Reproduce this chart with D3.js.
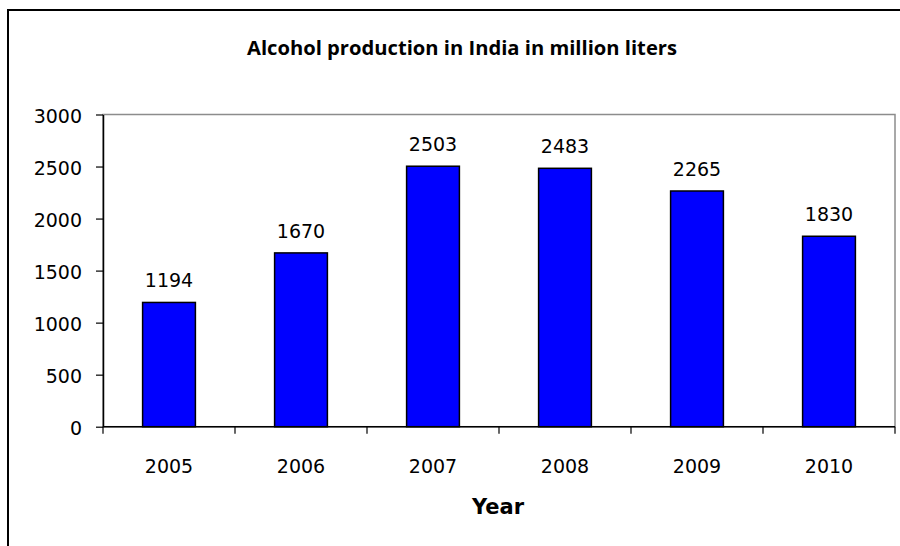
<!DOCTYPE html>
<html>
<head>
<meta charset="utf-8">
<script src="https://cdn.jsdelivr.net/npm/d3@7"></script>
<style>
  html, body { margin: 0; padding: 0; background: #fff; }
  svg { display: block; }
</style>
</head>
<body>
<svg id="chart" width="900" height="546"></svg>
<script>
const title = "Alcohol production in India in million liters";
const xTitle = "Year";
const categories = ["2005", "2006", "2007", "2008", "2009", "2010"];
const values = [1194, 1670, 2503, 2483, 2265, 1830];
const yTicks = [0, 500, 1000, 1500, 2000, 2500, 3000];

const svg = d3.select("#chart");
const W = 900, H = 546;
const plot = { left: 103, right: 895, top: 114.5, bottom: 426.7 };

// outer border
svg.append("rect")
  .attr("x", 8).attr("y", 10)
  .attr("width", W + 20).attr("height", H + 20)
  .attr("fill", "#fff").attr("stroke", "#000").attr("stroke-width", 2);

const x = d3.scaleBand().domain(categories)
  .range([plot.left, plot.right])
  .paddingInner(0.6).paddingOuter(0.3);
const xAxisScale = d3.scaleBand().domain(categories).range([plot.left, plot.right]);
const y = d3.scaleLinear().domain([0, 3000]).range([plot.bottom, plot.top]);

// plot area frame (top and right in grey)
svg.append("rect")
  .attr("x", plot.left).attr("y", plot.top)
  .attr("width", plot.right - plot.left).attr("height", plot.bottom - plot.top)
  .attr("fill", "none").attr("stroke", "#8c8c8c").attr("stroke-width", 1.5);

// bars
svg.append("g").selectAll("rect").data(values).join("rect")
  .attr("x", (d, i) => x(categories[i]))
  .attr("y", d => y(d))
  .attr("width", x.bandwidth())
  .attr("height", d => y(0) - y(d))
  .attr("fill", "#0000ff")
  .attr("stroke", "#000").attr("stroke-width", 1.5);

// data labels
svg.append("g").selectAll("text").data(values).join("text")
  .attr("x", (d, i) => x(categories[i]) + x.bandwidth() / 2)
  .attr("y", d => y(d) - 15)
  .attr("text-anchor", "middle")
  .attr("font-family", "DejaVu Sans, Verdana, sans-serif")
  .attr("font-size", 19)
  .attr("fill", "#000")
  .text(d => d);

// y axis
const yAxis = d3.axisLeft(y).tickValues(yTicks).tickFormat(d3.format("d"))
  .tickSize(7).tickPadding(14).tickSizeOuter(0);
const gy = svg.append("g").attr("transform", `translate(${plot.left},0)`).call(yAxis);
gy.select(".domain").attr("stroke", "#000").attr("stroke-width", 1.5);
gy.selectAll(".tick line").attr("stroke", "#000").attr("stroke-width", 1.2);
gy.selectAll(".tick text")
  .attr("font-family", "DejaVu Sans, Verdana, sans-serif")
  .attr("font-size", 19).attr("fill", "#000")
  .attr("dy", "0.62em").attr("y", -4);

// x axis with ticks at band boundaries
const gx = svg.append("g").attr("transform", `translate(0,${plot.bottom})`);
gx.append("line")
  .attr("x1", plot.left).attr("x2", plot.right)
  .attr("stroke", "#000").attr("stroke-width", 1.5);
const bounds = categories.map(c => xAxisScale(c)).concat([plot.right]);
gx.selectAll("line.tk").data(bounds).join("line").attr("class", "tk")
  .attr("x1", d => d).attr("x2", d => d)
  .attr("y1", 0).attr("y2", 7)
  .attr("stroke", "#000").attr("stroke-width", 1.2);
gx.selectAll("text").data(categories).join("text")
  .attr("x", d => xAxisScale(d) + xAxisScale.bandwidth() / 2)
  .attr("y", 46)
  .attr("text-anchor", "middle")
  .attr("font-family", "DejaVu Sans, Verdana, sans-serif")
  .attr("font-size", 19).attr("fill", "#000")
  .text(d => d);

// title
svg.append("text")
  .attr("x", 462).attr("y", 55)
  .attr("text-anchor", "middle")
  .attr("font-family", "Open Sans, sans-serif")
  .attr("font-weight", "bold")
  .attr("font-size", 20)
  .attr("textLength", 430).attr("lengthAdjust", "spacingAndGlyphs")
  .text(title);

// x axis title
svg.append("text")
  .attr("x", 498).attr("y", 514)
  .attr("text-anchor", "middle")
  .attr("font-family", "DejaVu Sans, Verdana, sans-serif")
  .attr("font-weight", "bold")
  .attr("font-size", 21)
  .text(xTitle);
</script>
</body>
</html>
